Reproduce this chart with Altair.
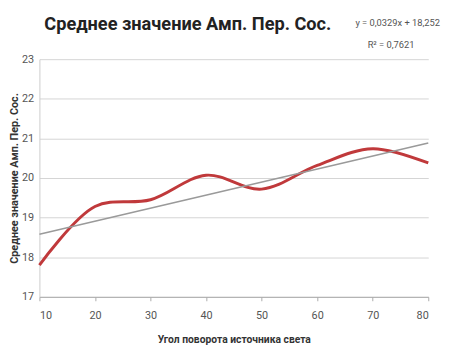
import altair as alt
import pandas as pd

angles = [10, 20, 30, 40, 50, 60, 70, 80]
amp = [17.8, 19.28, 19.45, 20.07, 19.72, 20.32, 20.74, 20.38]
slope = 0.0329
intercept = 18.252
trend_x = [10, 80]
title_text = "Среднее значение Амп. Пер. Сос."
eq_line1 = "y = 0,0329x + 18,252"
eq_line2 = "R² = 0,7621"
x_title = "Угол поворота источника света"
y_title = "Среднее значение Амп. Пер. Сос."

F2 = "Roboto, sans-serif"

df = pd.DataFrame({"x": angles, "y": amp})
tdf = pd.DataFrame({"x": trend_x, "y": [slope * v + intercept for v in trend_x]})

xs = alt.Scale(domain=[10, 80], nice=False, zero=False)
ys = alt.Scale(domain=[17, 23], nice=False, zero=False)

xaxis = alt.Axis(values=angles, grid=False, title=x_title, titleFont=F2,
                 titleFontSize=10.5, titleFontWeight="bold", titleColor="#333",
                 labelFont=F2, labelFontSize=11, labelColor="#555",
                 domainColor="#aaa", tickColor="#aaa", tickSize=4, labelPadding=9, titlePadding=15)
yaxis = alt.Axis(values=[17 + 0.5 * i for i in range(13)], grid=True, gridColor="#d4d4d4",
                 labelExpr="datum.value % 1 == 0 ? datum.label : ''",
                 title=y_title, titleFont=F2, titleFontSize=11,
                 titleFontWeight="bold", titleColor="#333",
                 titleX=-25, titleY=121, titleBaseline="middle",
                 labelFont=F2, labelFontSize=11, labelColor="#555",
                 domainColor="#ccc", tickSize=0, labelPadding=6)

base = alt.Chart(df)
curve = base.mark_line(color="#c0393b", strokeWidth=3, interpolate="catmull-rom").encode(
    x=alt.X("x:Q", scale=xs, axis=xaxis),
    y=alt.Y("y:Q", scale=ys, axis=yaxis),
)
trend = alt.Chart(tdf).mark_line(color="#9a9a9a", strokeWidth=1.5).encode(
    x=alt.X("x:Q", scale=xs), y=alt.Y("y:Q", scale=ys)
)
title = alt.Chart(pd.DataFrame({"t": [title_text]})).mark_text(
    font=F2, fontSize=18.5, fontWeight="bold", color="#222",
    align="left", baseline="middle"
).encode(x=alt.value(5), y=alt.value(-36), text="t:N")

eq1 = alt.Chart(pd.DataFrame({"t": [eq_line1]})).mark_text(
    font=F2, fontSize=9.5, color="#555", align="right", baseline="middle"
).encode(x=alt.value(408), y=alt.value(-37), text="t:N")
eq2 = alt.Chart(pd.DataFrame({"t": [eq_line2]})).mark_text(
    font=F2, fontSize=9.5, color="#555", align="right", baseline="middle"
).encode(x=alt.value(382), y=alt.value(-14), text="t:N")

chart = alt.layer(curve, trend, title, eq1, eq2).properties(
    width=396, height=242,
    autosize=alt.AutoSizeParams(type="none"),
    padding={"left": 32, "top": 49, "right": 15, "bottom": 50},
    background="white",
).configure_view(stroke=None)

chart.save("out.html", embed_options={"renderer": "svg", "actions": False})
